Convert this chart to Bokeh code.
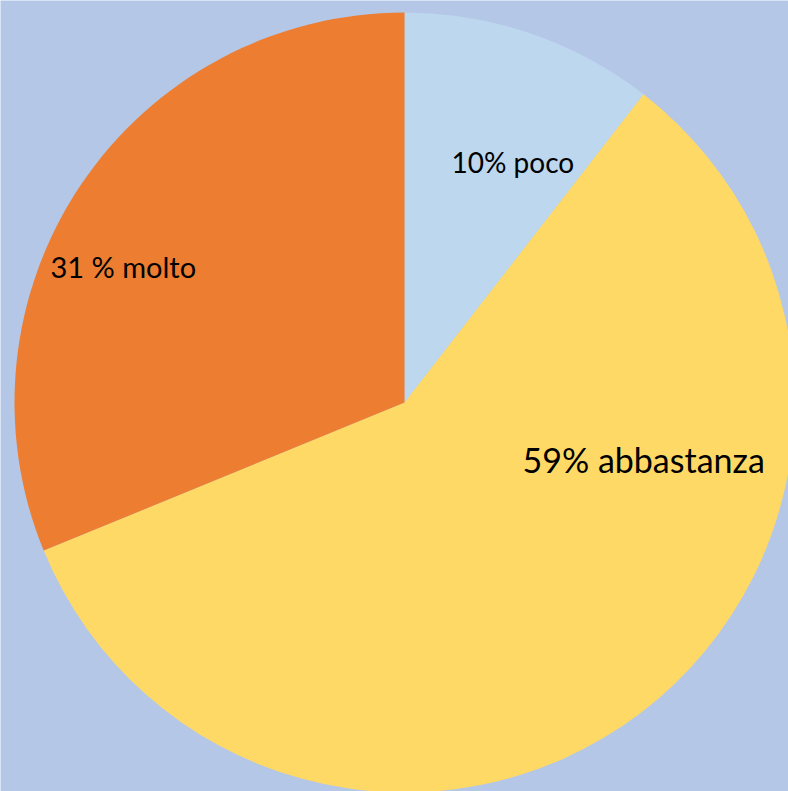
import math
from bokeh.plotting import figure
from bokeh.models import ColumnDataSource
from bokeh.core.properties import value
from bokeh.embed import file_html
from bokeh.resources import INLINE

# Data (slice shares; labels as printed)
categories = ["poco", "abbastanza", "molto"]
percent = [10.5, 58.3, 31.2]
labels = ["10% poco", "59% abbastanza", "31 % molto"]
colors = ["#BDD7EE", "#FFD966", "#ED7D31"]

# Layout (reference pixel coordinates, y measured from top)
W, H = 788, 791
cx, cy_top = 404, 402
radius = 390
label_pos = [(451, 161), (522, 459), (50, 266)]
label_size = ["28px", "34px", "29px"]

total = sum(percent)
starts, ends = [], []
acc = 0.0
for v in percent:
    a0 = math.pi / 2 - 2 * math.pi * acc / total
    acc += v
    a1 = math.pi / 2 - 2 * math.pi * acc / total
    starts.append(a0)
    ends.append(a1)

src = ColumnDataSource(dict(cat=categories, val=percent, start=starts, end=ends, color=colors))

p = figure(width=W, height=H,
           x_range=(0, W), y_range=(0, H),
           output_backend="svg", toolbar_location=None,
           background_fill_color="#B4C7E7", border_fill_color="#B4C7E7",
           min_border=0)
p.axis.visible = False
p.grid.visible = False
p.outline_line_color = None

p.wedge(x=cx, y=H - cy_top, radius=radius, start_angle="start", end_angle="end",
        direction="clock", fill_color="color", line_color=None, source=src)

for lab, (lx, ly), fs in zip(labels, label_pos, label_size):
    p.text(x=[lx], y=[H - ly], text=[lab], text_font=value("Lato"),
           text_font_size=fs, text_color="#000000",
           text_align="left", text_baseline="alphabetic")

html = file_html(p, INLINE)
open("out.html", "w").write(html)
